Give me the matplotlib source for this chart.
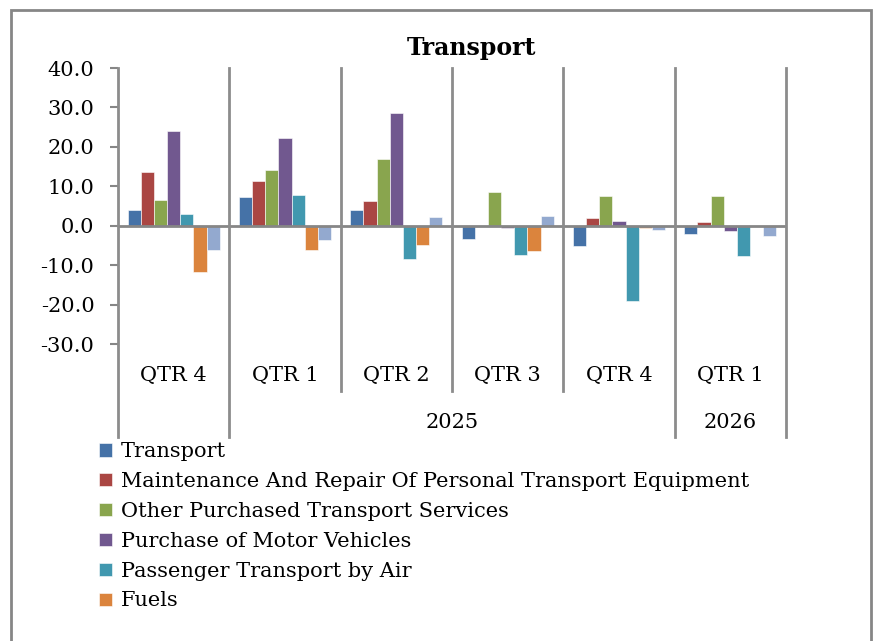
import matplotlib
matplotlib.use("Agg")
import matplotlib.pyplot as plt
import numpy as np
from matplotlib.patches import Rectangle
from matplotlib.lines import Line2D

quarters = ["QTR 4", "QTR 1", "QTR 2", "QTR 3", "QTR 4", "QTR 1"]
years = ["", "2025", "2025", "2025", "2025", "2026"]

series_names = [
    "Transport",
    "Maintenance And Repair Of Personal Transport Equipment",
    "Other Purchased Transport Services",
    "Purchase of Motor Vehicles",
    "Passenger Transport by Air",
    "Fuels",
    "",  # seventh series, its legend entry is cut off in the original
]

transport = [4.1, 7.3, 4.0, -3.3, -5.1, -2.2]
maintenance = [13.6, 11.4, 6.3, 0.0, 1.9, 1.0]
other_services = [6.6, 14.2, 16.8, 8.5, 7.5, 7.5]
motor_vehicles = [24.0, 22.3, 28.7, -0.5, 1.1, -1.4]
air = [3.0, 7.8, -8.4, -7.4, -19.0, -7.8]
fuels = [-11.8, -6.1, -5.0, -6.3, -0.7, 0.0]
seventh = [-6.1, -3.7, 2.2, 2.4, -1.0, -2.6]

all_series = [transport, maintenance, other_services, motor_vehicles, air, fuels, seventh]
colors = ["#4572A7", "#AA4643", "#89A54E", "#71588F", "#4198AF", "#DB843D", "#93A9CF"]

W, H = 874, 641
fig = plt.figure(figsize=(W / 100, H / 100), dpi=100)
plt.rcParams["font.family"] = ["DejaVu Serif"]
FS = 15

def fx(px):
    return px / W

def fy(py):
    return 1 - py / H

ax = fig.add_axes([fx(118), fy(344), fx(786) - fx(118), fy(68) - fy(344)])

x = np.arange(len(quarters))
bw = 0.118
for i, (vals, c) in enumerate(zip(all_series, colors)):
    ax.bar(x + (i - 3) * bw, vals, bw, color=c, edgecolor="white", linewidth=0.4,
           label=series_names[i], zorder=2)

ax.set_xlim(-0.5, len(quarters) - 0.5)
ax.set_ylim(-30, 40)
ax.set_yticks(np.arange(-30, 41, 10))
ax.set_yticklabels([f"{v:.1f}" for v in np.arange(-30, 41, 10)], fontsize=FS)
ax.tick_params(axis="y", color="#868686", width=1.5, length=6, pad=11)
ax.set_xticks([])
for s in ["top", "right", "bottom", "left"]:
    ax.spines[s].set_visible(False)
ax.axhline(0, color="#868686", lw=2, zorder=3)

# category separator lines running into the label area
gray = "#8c8c8c"
for b in np.arange(-0.5, len(quarters), 1.0):
    xb = fx(118) + (b + 0.5) / len(quarters) * (fx(786) - fx(118))
    long = b in (-0.5, 0.5, 4.5, 5.5)
    y_end = fy(437) if long else fy(391)
    fig.add_artist(Line2D([xb, xb], [fy(68), y_end], color=gray, lw=2, zorder=1))

# category labels
for i, q in enumerate(quarters):
    xc = fx(118) + (i + 0.5) / len(quarters) * (fx(786) - fx(118))
    fig.text(xc, fy(376), q, ha="center", va="center", fontsize=FS)
year_groups = {}
for i, yr in enumerate(years):
    if yr:
        year_groups.setdefault(yr, []).append(i)
for yr, idx in year_groups.items():
    xc = fx(118) + (np.mean(idx) + 0.5) / len(quarters) * (fx(786) - fx(118))
    fig.text(xc, fy(422), yr, ha="center", va="center", fontsize=FS)

fig.text(fx(471), fy(48), "Transport", ha="center", va="center", fontsize=17, fontweight="bold")

handles, labels = ax.get_legend_handles_labels()
fig.legend(handles[:6], labels[:6], loc="upper left", bbox_to_anchor=(fx(91), fy(434)),
           frameon=False, fontsize=FS, handlelength=0.6, handleheight=0.6,
           handletextpad=0.45, labelspacing=0.52, borderaxespad=0)

# outer chart frame
fig.add_artist(Rectangle((fx(11), fy(700)), fx(871) - fx(11), fy(10) - fy(700),
                         fill=False, edgecolor="#868686", lw=2, transform=fig.transFigure))

fig.savefig("out.png", dpi=100)
